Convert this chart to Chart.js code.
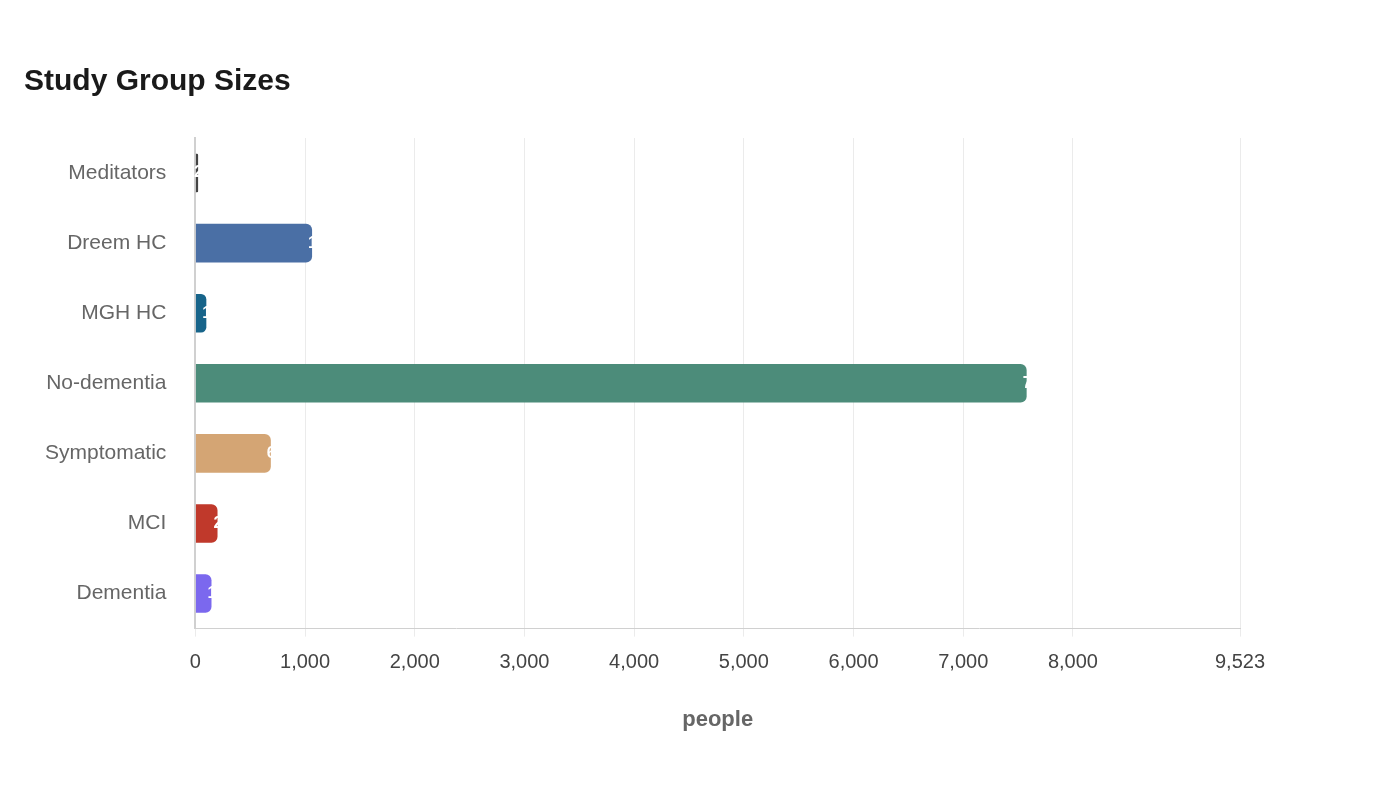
<!DOCTYPE html>
<html><head><meta charset="utf-8">
<script src="https://cdn.jsdelivr.net/npm/chart.js@4"></script>
<style>body{margin:0;background:#fff}#w{width:1400px;height:800px}</style></head>
<body><div id="w"><canvas id="c"></canvas></div>
<script>
const categories = ["Meditators","Dreem HC","MGH HC","No-dementia","Symptomatic","MCI","Dementia"];
const values = [25, 1064, 100, 7578, 688, 202, 147];
const colors = ["#444444","#4a6fa5","#17648a","#4c8c7a","#d4a574","#c0392b","#7b68ee"];
const tickValues = [0,1000,2000,3000,4000,5000,6000,7000,8000,9523];
const labelPlugin = {
  id:'lbl',
  afterDatasetsDraw(chart){
    const ctx=chart.ctx; const meta=chart.getDatasetMeta(0);
    ctx.save(); ctx.fillStyle='#fff'; ctx.font='bold 16px Liberation Sans, Arial'; ctx.textBaseline='middle'; ctx.textAlign='left';
    meta.data.forEach((b,i)=>{ ctx.fillText(values[i].toLocaleString('en-US'), b.x-4, b.y); });
    ctx.restore();
  }
};
new Chart(document.getElementById('c'),{
  type:'bar',
  data:{labels:categories,datasets:[{data:values,backgroundColor:colors,borderRadius:6,borderSkipped:'start',barPercentage:0.55,categoryPercentage:1}]},
  options:{indexAxis:'y',responsive:true,maintainAspectRatio:false,animation:false,
    layout:{padding:{left:24,right:160,top:64,bottom:63}},
    plugins:{legend:{display:false},tooltip:{enabled:false},
      title:{display:true,text:'Study Group Sizes',align:'start',color:'#1a1a1a',font:{family:'Liberation Sans, Arial',size:30,weight:'bold'},padding:{top:0,bottom:38}}},
    scales:{
      x:{min:0,max:9523,afterBuildTicks(a){a.ticks=tickValues.map(v=>({value:v}));},
        grid:{color:'#ebebeb',drawTicks:true,tickLength:8},border:{color:'#d0d0d0'},
        ticks:{color:'#444',padding:14,font:{family:'Liberation Sans, Arial',size:20},callback:v=>v.toLocaleString('en-US')},
        title:{display:true,text:'people',color:'#666',font:{family:'Liberation Sans, Arial',size:22,weight:'bold'},padding:{top:18}}},
      y:{grid:{display:false},border:{color:'#d0d0d0',width:2},
        ticks:{color:'#666',padding:21,font:{family:'Liberation Sans, Arial',size:21}}}
    }},
  plugins:[labelPlugin]
});
</script></body></html>
